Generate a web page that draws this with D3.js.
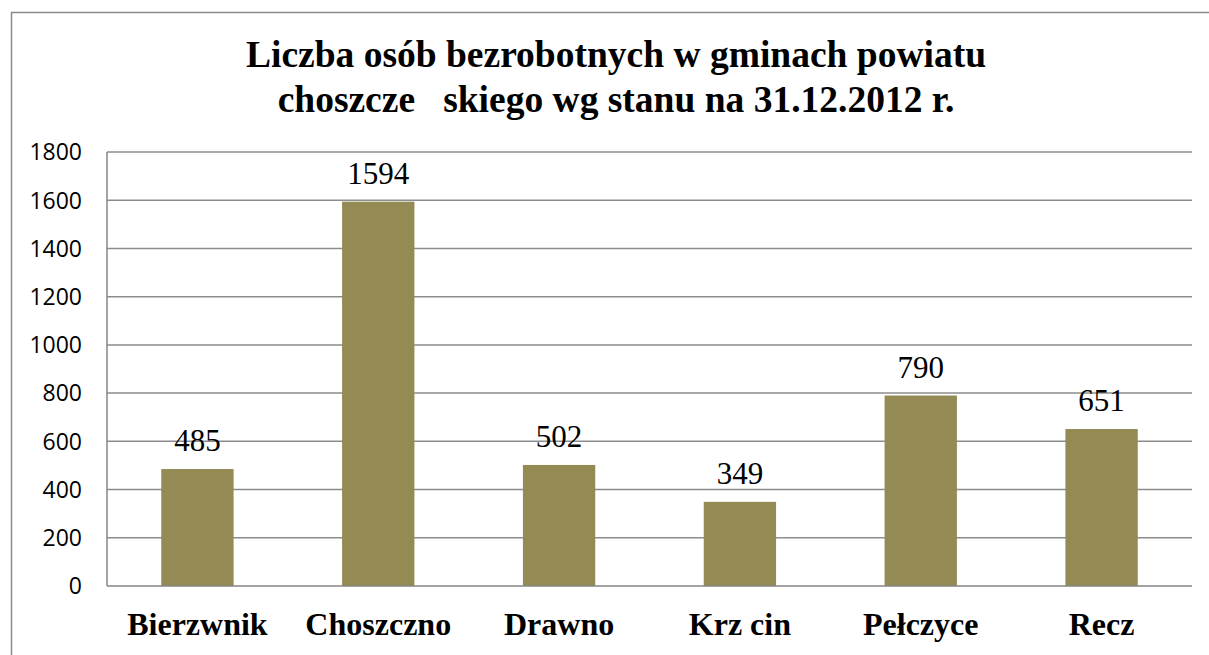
<!DOCTYPE html>
<html lang="pl">
<head>
    <meta charset="UTF-8">
    <title>Liczba osób bezrobotnych</title>
    <style>
        html, body { margin: 0; padding: 0; background: white; }
        #svg { display: block; }
        .serif { font-family: 'Liberation Serif', serif; }
        .sans { font-family: 'Open Sans', sans-serif; }
    </style>
    <script src="https://d3js.org/d3.v7.min.js"></script>
</head>
<body>
    <svg id="svg"></svg>
    <script>
        // data
        const gminy = ['Bierzwnik', 'Choszczno', 'Drawno', 'Krz cin', 'Pełczyce', 'Recz'];
        const bezrobotni = [485, 1594, 502, 349, 790, 651];
        const yTicks = [0, 200, 400, 600, 800, 1000, 1200, 1400, 1600, 1800];
        const titleLines = ['Liczba osób bezrobotnych w gminach powiatu', 'choszcze\u00a0\u00a0\u00a0skiego wg stanu na 31.12.2012 r.'];

        const width = 1209;
        const height = 655;
        const plot = { left: 107, right: 1192, top: 152, bottom: 586 };

        const svg = d3.select('#svg')
            .attr('width', width)
            .attr('height', height);

        // outer chart border (top + left only visible)
        svg.append('path')
            .attr('d', 'M11.5,' + height + ' V12.5 H' + width)
            .attr('fill', 'none')
            .attr('stroke', '#8a8a8a')
            .attr('stroke-width', 1.5);

        const x = d3.scaleBand()
            .domain(gminy)
            .range([plot.left, plot.right])
            .paddingInner(0.6)
            .paddingOuter(0.3);

        const y = d3.scaleLinear()
            .domain([0, 1800])
            .range([plot.bottom, plot.top]);

        // gridlines
        svg.append('g')
            .selectAll('line')
            .data(yTicks.filter(d => d > 0))
            .enter()
            .append('line')
            .attr('x1', plot.left)
            .attr('x2', plot.right)
            .attr('y1', d => y(d))
            .attr('y2', d => y(d))
            .attr('stroke', '#8c8c8c')
            .attr('stroke-width', 1.5);

        // y tick labels
        svg.append('g')
            .selectAll('text')
            .data(yTicks)
            .enter()
            .append('text')
            .attr('class', 'sans')
            .attr('x', 82)
            .attr('y', d => y(d))
            .attr('dy', '0.36em')
            .attr('text-anchor', 'end')
            .style('font-size', '23px')
            .attr('fill', '#000')
            .text(d => d);

        // bars
        svg.append('g')
            .selectAll('rect')
            .data(bezrobotni)
            .enter()
            .append('rect')
            .attr('x', (d, i) => x(gminy[i]))
            .attr('y', d => y(d))
            .attr('width', x.bandwidth())
            .attr('height', d => y(0) - y(d))
            .attr('fill', '#948a54');

        // axes lines
        svg.append('line')
            .attr('x1', plot.left).attr('x2', plot.left)
            .attr('y1', plot.top).attr('y2', plot.bottom)
            .attr('stroke', '#868686').attr('stroke-width', 1.5);
        svg.append('line')
            .attr('x1', plot.left).attr('x2', plot.right)
            .attr('y1', plot.bottom).attr('y2', plot.bottom)
            .attr('stroke', '#868686').attr('stroke-width', 1.5);

        // value labels
        svg.append('g')
            .selectAll('text')
            .data(bezrobotni)
            .enter()
            .append('text')
            .attr('class', 'serif')
            .attr('x', (d, i) => x(gminy[i]) + x.bandwidth() / 2)
            .attr('y', d => y(d) - 18)
            .attr('text-anchor', 'middle')
            .style('font-size', '31px')
            .attr('fill', '#000')
            .text(d => d);

        // category labels
        svg.append('g')
            .selectAll('text')
            .data(gminy)
            .enter()
            .append('text')
            .attr('class', 'serif')
            .attr('x', d => x(d) + x.bandwidth() / 2)
            .attr('y', 635)
            .attr('text-anchor', 'middle')
            .style('font-weight', 'bold')
            .style('font-size', '32px')
            .attr('fill', '#000')
            .text(d => d);

        // title
        svg.append('g')
            .selectAll('text')
            .data(titleLines)
            .enter()
            .append('text')
            .attr('class', 'serif')
            .attr('x', 616)
            .attr('y', (d, i) => 67 + i * 45)
            .attr('text-anchor', 'middle')
            .style('font-weight', 'bold')
            .style('font-size', '37.5px')
            .attr('fill', '#000')
            .text(d => d);
    </script>
</body>
</html>
